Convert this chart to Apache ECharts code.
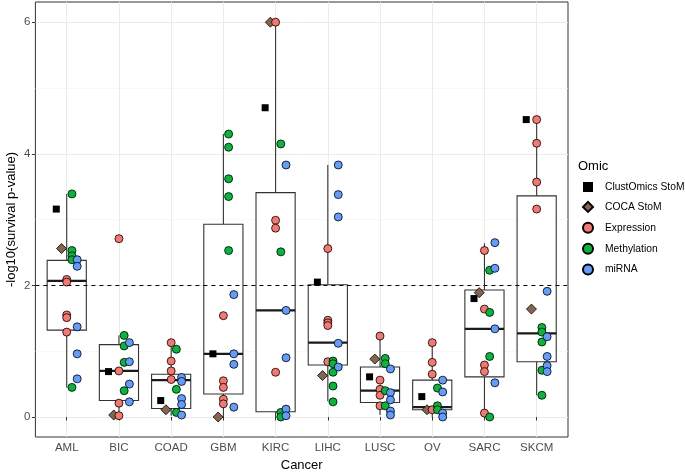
<!DOCTYPE html>
<html>
<head>
<meta charset="utf-8">
<script src="https://cdn.jsdelivr.net/npm/echarts@6/dist/echarts.min.js"></script>
<style>html,body{margin:0;padding:0;background:#fff}#c{width:685px;height:472px}</style>
</head>
<body>
<div id="c"></div>
<script>
// ---------- data ----------
const categories = ['AML', 'BIC', 'COAD', 'GBM', 'KIRC', 'LIHC', 'LUSC', 'OV', 'SARC', 'SKCM'];
const yTicks = [0, 2, 4, 6];
const threshold = 2;

// one value per cancer
const clustOmics = [3.16, 0.69, 0.25, 0.96, 4.70, 2.05, 0.61, 0.31, 1.80, 4.52];
const cocaStoM   = [2.56, 0.03, 0.11, 0.00, 6.00, 0.63, 0.88, 0.11, 1.89, 1.64];

// several values per cancer
const expression = [
  [2.09, 2.05, 1.55, 1.51, 1.29],
  [2.71, 0.70, 0.21, 0.02],
  [1.13, 0.85, 0.70, 0.57],
  [1.54, 0.55, 0.45, 0.27, 0.20],
  [6.00, 2.99, 2.87, 0.68],
  [2.56, 1.47, 1.43, 1.39, 0.84],
  [1.23, 0.56, 0.42, 0.33, 0.17],
  [1.13, 0.83, 0.65, 0.11],
  [2.53, 1.64, 0.79, 0.69, 0.06],
  [4.52, 4.16, 3.57, 3.16]
];
const methylation = [
  [3.39, 2.53, 2.45, 2.39, 0.45],
  [1.24, 1.08, 0.83, 0.40],
  [1.03, 0.42, 0.07],
  [4.30, 4.10, 3.62, 3.35, 2.53],
  [4.15, 2.51, 0.07, 0.00],
  [0.85, 0.81, 0.68, 0.47, 0.23],
  [0.89, 0.81, 0.40, 0.17],
  [0.44, 0.17, 0.11],
  [2.23, 1.59, 0.92, 0.00],
  [1.36, 1.29, 1.14, 0.71, 0.33]
];
const mirna = [
  [2.39, 2.29, 1.37, 0.96, 0.58],
  [1.13, 0.84, 0.50, 0.23],
  [0.60, 0.54, 0.28, 0.19, 0.03],
  [1.86, 0.96, 0.80, 0.15],
  [3.83, 1.62, 0.90, 0.12, 0.02],
  [3.83, 3.38, 3.04, 1.12, 0.76],
  [0.73, 0.37, 0.26, 0.09, 0.03],
  [0.56, 0.38, 0.06, 0.00],
  [2.65, 2.26, 1.34, 0.52],
  [1.91, 1.22, 0.92, 0.78, 0.69]
];

// box statistics per cancer
const boxLow    = [0.45, 0.02, 0.02, 0.00, 0.00, 0.24, 0.03, 0.00, 0.00, 0.33];
const boxQ1     = [1.32, 0.25, 0.13, 0.35, 0.08, 0.79, 0.22, 0.11, 0.61, 0.84];
const boxMedian = [2.07, 0.70, 0.56, 0.96, 1.62, 1.13, 0.40, 0.15, 1.34, 1.27];
const boxQ3     = [2.38, 1.10, 0.65, 2.93, 3.41, 2.01, 0.76, 0.56, 1.93, 3.36];
const boxHigh   = [3.39, 1.24, 1.13, 4.30, 6.00, 3.83, 1.23, 1.13, 2.64, 4.52];

// ---------- build ----------
const FONT = 'Liberation Sans, Arial, Helvetica, sans-serif';
const catPos = categories.map((_, i) => i + 1);

function single(values, dodge) {
  return values.map((v, i) => [catPos[i] + dodge, v]);
}
function multi(groups, dodge) {
  const out = [];
  groups.forEach((g, i) => g.forEach(v => out.push([catPos[i] + dodge, v])));
  return out;
}
const boxData = categories.map((_, i) => [catPos[i], boxLow[i], boxQ1[i], boxMedian[i], boxQ3[i], boxHigh[i]]);

function renderBox(params, api) {
  const x = api.value(0);
  const lo = api.coord([x, api.value(1)]);
  const q1 = api.coord([x, api.value(2)]);
  const md = api.coord([x, api.value(3)]);
  const q3 = api.coord([x, api.value(4)]);
  const hi = api.coord([x, api.value(5)]);
  const w = api.size([0.75, 0])[0];
  const cx = lo[0];
  const ls = { stroke: '#333333', lineWidth: 1.1 };
  return {
    type: 'group',
    children: [
      { type: 'line', shape: { x1: cx, y1: hi[1], x2: cx, y2: q3[1] }, style: ls },
      { type: 'line', shape: { x1: cx, y1: q1[1], x2: cx, y2: lo[1] }, style: ls },
      { type: 'rect', shape: { x: cx - w / 2, y: q3[1], width: w, height: q1[1] - q3[1] },
        style: { stroke: '#333333', lineWidth: 1.1, fill: '#ffffff' } },
      { type: 'line', shape: { x1: cx - w / 2, y1: md[1], x2: cx + w / 2, y2: md[1] },
        style: { stroke: '#1a1a1a', lineWidth: 2.3 } }
    ]
  };
}

const chart = echarts.init(document.getElementById('c'), null, { renderer: 'canvas' });
chart.setOption({
  animation: false,
  backgroundColor: '#ffffff',
  textStyle: { fontFamily: FONT },
  title: {
    text: 'Omic', left: 578, top: 160, padding: 0,
    textStyle: { fontSize: 13, fontWeight: 'normal', color: '#000', fontFamily: FONT }
  },
  legend: {
    orient: 'vertical', left: 582, top: 182, padding: 0,
    itemWidth: 10, itemHeight: 10, itemGap: 8.9,
    textStyle: { fontSize: 10.3, lineHeight: 10, color: '#000', fontFamily: FONT, padding: [0, 0, 0, 7] },
    data: ['ClustOmics StoM', 'COCA StoM', 'Expression', 'Methylation', 'miRNA']
  },
  grid: {
    left: 35.4, right: 117, top: 2, bottom: 35,
    outerBoundsMode: 'none', containLabel: false,
    show: true, borderColor: '#333333', borderWidth: 1, backgroundColor: '#ffffff'
  },
  xAxis: {
    type: 'value', min: 0.4, max: 10.6, splitNumber: 10,
    name: 'Cancer', nameLocation: 'middle', nameGap: 20,
    nameTextStyle: { fontSize: 13, color: '#000', fontFamily: FONT },
    axisLine: { show: false },
    axisTick: { show: true, length: 3.5, customValues: catPos, lineStyle: { color: '#333333', width: 1 } },
    axisLabel: { customValues: catPos, color: '#4d4d4d', fontSize: 11.5, margin: 5, fontFamily: FONT,
      formatter: v => categories[Math.round(v) - 1] || '' },
    splitLine: { show: true, lineStyle: { color: '#ebebeb', width: 1 } },
    minorSplitLine: { show: false }
  },
  yAxis: {
    type: 'value', min: -0.304, max: 6.307, splitNumber: 3,
    name: '-log10(survival p-value)', nameLocation: 'middle', nameGap: 17, nameMoveOverlap: false,
    nameTextStyle: { fontSize: 13, color: '#000', fontFamily: FONT },
    axisLine: { show: false },
    axisTick: { show: true, length: 3.5, customValues: yTicks, lineStyle: { color: '#333333', width: 1 } },
    axisLabel: { customValues: yTicks, color: '#4d4d4d', fontSize: 11.5, margin: 5, fontFamily: FONT },
    splitLine: { show: true, lineStyle: { color: '#ebebeb', width: 1 } },
    minorTick: { show: false, splitNumber: 2 },
    minorSplitLine: { show: true, lineStyle: { color: '#f3f3f3', width: 0.6 } }
  },
  series: [
    {
      type: 'custom', name: 'box', renderItem: renderBox, data: boxData,
      encode: { x: 0, y: [1, 2, 3, 4, 5] }, silent: true, z: 2
    },
    {
      type: 'scatter', name: 'ClustOmics StoM', symbol: 'rect', symbolSize: 7,
      itemStyle: { color: '#000000', opacity: 1 }, data: single(clustOmics, -0.2), z: 3
    },
    {
      type: 'scatter', name: 'COCA StoM', symbol: 'diamond', symbolSize: 10,
      itemStyle: { color: '#86654f', borderColor: '#000', borderWidth: 0.8, opacity: 1 },
      data: single(cocaStoM, -0.1), z: 3
    },
    {
      type: 'scatter', name: 'Expression', symbol: 'circle', symbolSize: 8,
      itemStyle: { color: '#F8766D', borderColor: '#000', borderWidth: 0.8, opacity: 1 },
      data: multi(expression, 0), z: 3
    },
    {
      type: 'scatter', name: 'Methylation', symbol: 'circle', symbolSize: 8,
      itemStyle: { color: '#00BA38', borderColor: '#000', borderWidth: 0.8, opacity: 1 },
      data: multi(methylation, 0.1), z: 3
    },
    {
      type: 'scatter', name: 'miRNA', symbol: 'circle', symbolSize: 8,
      itemStyle: { color: '#619CFF', borderColor: '#000', borderWidth: 0.8, opacity: 1 },
      data: multi(mirna, 0.2), z: 3,
      markLine: {
        silent: true, symbol: ['none', 'none'], label: { show: false },
        lineStyle: { color: '#000', type: [4, 4], width: 1 },
        data: [{ yAxis: threshold }]
      }
    }
  ]
});
</script>
</body>
</html>
